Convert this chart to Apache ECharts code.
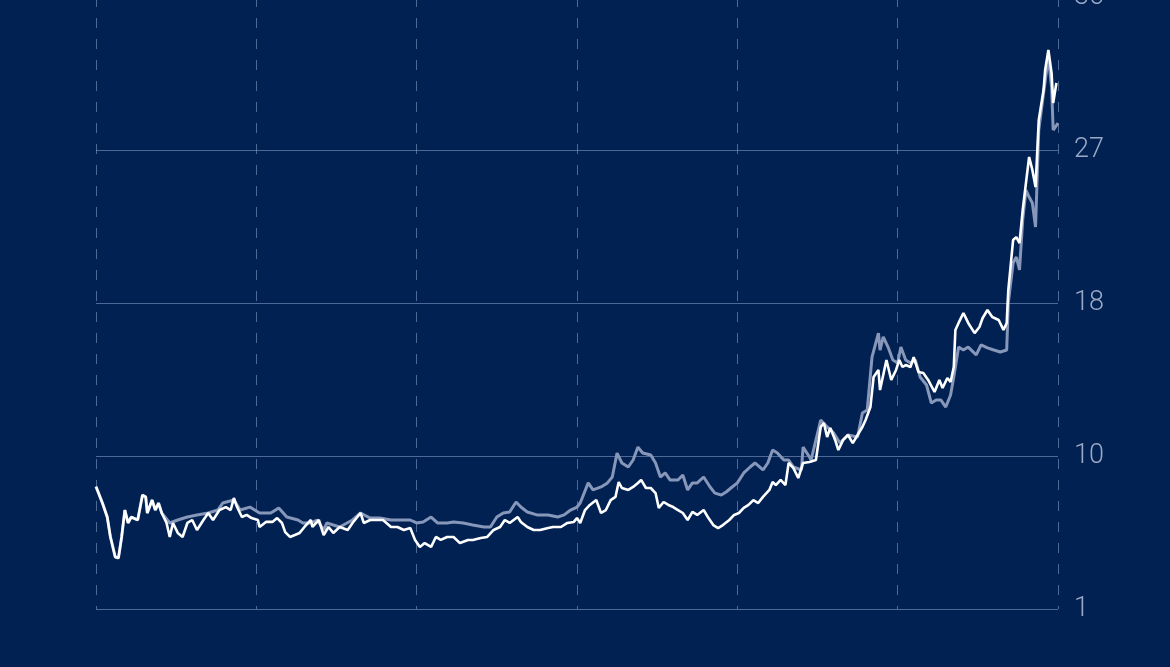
<!DOCTYPE html>
<html>
<head>
<meta charset="utf-8">
<script src="https://cdn.jsdelivr.net/npm/echarts@6/dist/echarts.min.js"></script>
<style>
html,body{margin:0;padding:0;background:#002152;}
#chart{width:1170px;height:667px;}
</style>
</head>
<body>
<div id="chart"></div>
<script>
// Y axis ticks and their labels
const yTicks = [1, 9.75, 18.5, 27.25, 36];
const yTickLabels = ['1', '10', '18', '27', '36'];
// X axis (years)
const xStart = 2019, xEnd = 2025;

// Bright white series
const whiteT = [2019.00,2019.04,2019.07,2019.09,2019.12,2019.14,2019.16,2019.18,2019.20,2019.22,2019.26,2019.29,2019.31,2019.32,2019.35,2019.37,2019.39,2019.41,2019.44,2019.46,2019.48,2019.51,2019.54,2019.57,2019.60,2019.63,2019.67,2019.70,2019.73,2019.77,2019.81,2019.84,2019.86,2019.88,2019.91,2019.94,2019.97,2020.01,2020.02,2020.06,2020.10,2020.13,2020.16,2020.18,2020.21,2020.24,2020.27,2020.30,2020.34,2020.35,2020.39,2020.42,2020.45,2020.48,2020.52,2020.57,2020.60,2020.65,2020.67,2020.71,2020.75,2020.79,2020.84,2020.88,2020.92,2020.96,2020.99,2021.02,2021.05,2021.09,2021.12,2021.15,2021.19,2021.23,2021.27,2021.32,2021.35,2021.40,2021.44,2021.48,2021.52,2021.55,2021.58,2021.63,2021.65,2021.69,2021.73,2021.77,2021.82,2021.85,2021.90,2021.94,2021.98,2022.00,2022.02,2022.05,2022.08,2022.12,2022.15,2022.18,2022.21,2022.24,2022.26,2022.28,2022.32,2022.35,2022.38,2022.40,2022.43,2022.46,2022.49,2022.51,2022.54,2022.57,2022.60,2022.63,2022.66,2022.69,2022.72,2022.75,2022.79,2022.82,2022.85,2022.88,2022.91,2022.95,2022.98,2023.01,2023.04,2023.07,2023.10,2023.13,2023.16,2023.20,2023.22,2023.24,2023.27,2023.30,2023.32,2023.35,2023.38,2023.41,2023.45,2023.49,2023.52,2023.54,2023.56,2023.58,2023.61,2023.63,2023.66,2023.69,2023.72,2023.75,2023.78,2023.80,2023.83,2023.85,2023.88,2023.89,2023.93,2023.96,2023.99,2024.01,2024.03,2024.05,2024.08,2024.10,2024.13,2024.16,2024.19,2024.23,2024.26,2024.28,2024.31,2024.33,2024.35,2024.36,2024.38,2024.41,2024.44,2024.48,2024.51,2024.53,2024.56,2024.59,2024.63,2024.66,2024.68,2024.69,2024.72,2024.74,2024.76,2024.78,2024.80,2024.82,2024.84,2024.86,2024.88,2024.91,2024.92,2024.94,2024.96,2024.97,2024.99];
const whiteV = [8.00,7.06,6.26,5.12,3.97,3.92,5.12,6.66,5.92,6.26,6.09,7.52,7.41,6.49,7.23,6.66,7.06,6.49,5.92,5.12,5.92,5.35,5.12,5.92,6.09,5.52,6.09,6.49,6.09,6.66,6.83,6.66,7.35,6.83,6.26,6.38,6.20,6.09,5.69,5.98,5.98,6.20,5.92,5.40,5.12,5.23,5.35,5.69,6.09,5.69,6.09,5.23,5.69,5.35,5.69,5.52,5.92,6.49,5.92,6.09,6.09,6.09,5.69,5.69,5.52,5.63,4.95,4.55,4.77,4.55,5.12,4.95,5.12,5.12,4.77,4.95,4.95,5.06,5.12,5.52,5.69,6.09,5.92,6.26,5.98,5.69,5.52,5.52,5.63,5.69,5.69,5.92,5.98,6.20,5.92,6.66,6.95,7.23,6.49,6.66,7.23,7.41,8.26,7.92,7.81,7.98,8.21,8.38,7.92,7.92,7.63,6.78,7.12,6.95,6.83,6.66,6.49,6.09,6.55,6.38,6.66,6.20,5.80,5.63,5.80,6.09,6.38,6.49,6.78,6.95,7.23,7.06,7.41,7.81,8.26,8.09,8.38,8.09,9.35,9.06,8.49,9.35,9.41,9.52,11.41,11.64,10.84,11.35,10.67,10.09,10.67,10.95,10.49,10.95,11.41,11.81,12.55,14.27,14.67,13.52,15.24,14.10,14.67,15.24,14.84,14.95,14.84,15.41,14.55,14.50,14.10,13.41,14.10,13.64,14.21,13.98,14.84,16.96,17.36,17.93,17.36,16.78,17.13,17.64,18.10,17.70,17.53,16.96,17.36,19.24,22.10,22.27,21.93,23.82,25.36,26.85,26.11,25.13,28.97,30.68,31.83,32.97,31.65,29.94,31.08];

// Muted grey series
const greyT = [2019.00,2019.04,2019.07,2019.09,2019.12,2019.14,2019.16,2019.18,2019.20,2019.22,2019.26,2019.29,2019.31,2019.32,2019.35,2019.37,2019.39,2019.41,2019.46,2019.51,2019.57,2019.63,2019.70,2019.76,2019.79,2019.86,2019.90,2019.96,2020.02,2020.09,2020.14,2020.19,2020.26,2020.29,2020.34,2020.38,2020.42,2020.44,2020.52,2020.60,2020.65,2020.71,2020.77,2020.84,2020.90,2020.96,2021.00,2021.04,2021.09,2021.13,2021.19,2021.23,2021.29,2021.35,2021.42,2021.46,2021.50,2021.54,2021.58,2021.62,2021.65,2021.69,2021.75,2021.82,2021.88,2021.92,2021.96,2022.00,2022.02,2022.07,2022.10,2022.15,2022.19,2022.22,2022.25,2022.28,2022.32,2022.35,2022.38,2022.41,2022.46,2022.49,2022.52,2022.55,2022.58,2022.63,2022.66,2022.69,2022.72,2022.75,2022.79,2022.83,2022.86,2022.90,2022.93,2022.96,2023.00,2023.04,2023.08,2023.11,2023.16,2023.19,2023.22,2023.25,2023.29,2023.32,2023.35,2023.40,2023.41,2023.45,2023.46,2023.52,2023.56,2023.60,2023.64,2023.69,2023.75,2023.78,2023.81,2023.84,2023.88,2023.89,2023.91,2023.94,2023.97,2024.00,2024.02,2024.05,2024.08,2024.11,2024.14,2024.18,2024.21,2024.24,2024.27,2024.30,2024.33,2024.35,2024.38,2024.41,2024.44,2024.49,2024.52,2024.56,2024.60,2024.64,2024.68,2024.69,2024.72,2024.74,2024.76,2024.78,2024.80,2024.82,2024.84,2024.86,2024.88,2024.91,2024.94,2024.96,2024.97,2025.00];
const greyV = [8.00,7.06,6.26,5.12,3.97,3.92,5.12,6.66,5.92,6.26,6.09,7.52,7.41,6.49,7.23,6.66,7.06,6.49,5.92,6.09,6.26,6.38,6.49,6.66,7.06,7.23,6.66,6.83,6.49,6.49,6.78,6.26,6.09,5.92,5.92,6.09,5.52,5.92,5.69,6.09,6.49,6.20,6.20,6.09,6.09,6.09,5.92,5.98,6.26,5.92,5.92,5.98,5.92,5.80,5.69,5.69,6.26,6.49,6.55,7.12,6.83,6.55,6.38,6.38,6.26,6.38,6.66,6.83,7.06,8.21,7.81,7.98,8.21,8.55,9.92,9.35,9.12,9.52,10.26,9.92,9.81,9.35,8.55,8.78,8.38,8.38,8.66,7.81,8.21,8.21,8.55,7.98,7.63,7.52,7.69,7.92,8.21,8.78,9.12,9.35,8.95,9.35,10.09,9.92,9.52,9.52,9.12,8.95,10.26,9.69,9.52,11.81,11.41,11.07,10.49,10.95,10.84,12.21,12.38,15.41,16.78,15.81,16.56,15.98,15.24,15.07,15.98,15.24,15.07,15.24,14.27,13.81,12.78,12.95,12.95,12.55,13.24,14.27,15.98,15.81,15.98,15.53,16.10,15.93,15.81,15.70,15.81,18.50,20.79,21.13,20.39,23.25,24.96,24.56,24.22,22.85,28.39,30.51,32.57,30.85,28.39,28.79];

function zip(t, v) { return t.map((x, i) => [x, v[i]]); }

const chart = echarts.init(document.getElementById('chart'), null, {renderer: 'canvas'});
const gridColor = 'rgba(140,165,205,0.55)';
chart.setOption({
  backgroundColor: '#002152',
  animation: false,
  grid: {left: 96, right: 112, top: -3, bottom: 58, containLabel: false, outerBoundsMode: 'none'},
  xAxis: {
    type: 'value', min: xStart, max: xEnd, interval: 1,
    axisLine: {show: false}, axisTick: {show: false}, axisLabel: {show: false},
    splitLine: {show: true, lineStyle: {color: gridColor, type: [10, 11], width: 1}}
  },
  yAxis: {
    type: 'value', position: 'right', min: yTicks[0], max: yTicks[yTicks.length - 1],
    interval: yTicks[1] - yTicks[0],
    axisLine: {show: false}, axisTick: {show: false},
    axisLabel: {
      color: '#9aa9c7', fontSize: 27, fontFamily: 'Roboto', fontWeight: 300, margin: 16,
      formatter: function (v) {
        let best = 0;
        yTicks.forEach((t, i) => { if (Math.abs(t - v) < Math.abs(yTicks[best] - v)) best = i; });
        return yTickLabels[best];
      }
    },
    splitLine: {show: true, lineStyle: {color: gridColor, width: 1}}
  },
  series: [
    {type: 'line', data: zip(greyT, greyV), showSymbol: false, smooth: false,
     lineStyle: {color: '#8797b9', width: 3}, z: 2},
    {type: 'line', data: zip(whiteT, whiteV), showSymbol: false, smooth: false,
     lineStyle: {color: '#ffffff', width: 2.6}, z: 3}
  ]
});
</script>
</body>
</html>
